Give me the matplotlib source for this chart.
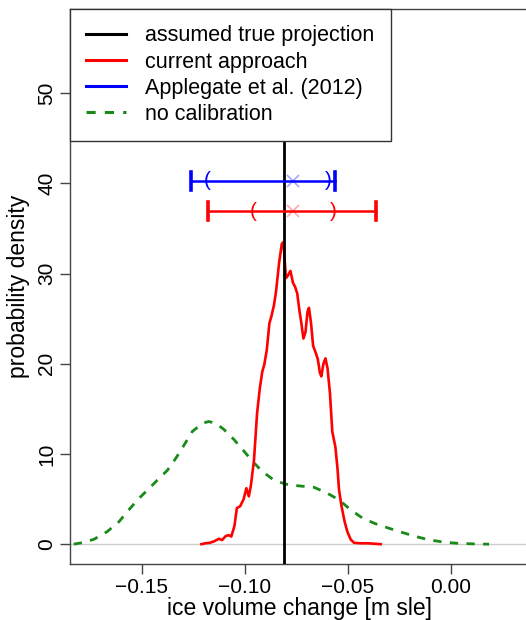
import matplotlib
matplotlib.use("Agg")
import matplotlib.pyplot as plt
import numpy as np

plt.rcParams['font.family'] = ['Liberation Sans', 'DejaVu Sans']

# values
true_proj = -0.081

red_x = [-0.1210, -0.1190, -0.1170, -0.1150, -0.1125, -0.1110, -0.1092, -0.1078,
         -0.1065, -0.1050, -0.1038, -0.1022, -0.1005, -0.0992, -0.0980, -0.0970,
         -0.0955, -0.0940, -0.0927, -0.0915, -0.0905, -0.0893, -0.0880, -0.0870,
         -0.0858, -0.0848, -0.0833, -0.0820, -0.0812, -0.0800, -0.0790, -0.0778,
         -0.0766, -0.0755, -0.0745, -0.0735, -0.0725, -0.0715, -0.0705, -0.0695,
         -0.0688, -0.0678, -0.0668, -0.0655, -0.0645, -0.0635, -0.0628, -0.0618,
         -0.0608, -0.0598, -0.0586, -0.0575, -0.0560, -0.0550, -0.0542, -0.0530,
         -0.0515, -0.0502, -0.0485, -0.0469, -0.0440, -0.0404, -0.0370, -0.0340]
red_y = [0.0, 0.1, 0.15, 0.3, 0.6, 0.45, 0.9, 1.0,
         0.85, 2.0, 4.0, 4.2, 5.0, 6.2, 5.3, 6.5,
         9.3, 14.5, 17.2, 19.1, 19.9, 21.5, 24.5, 25.3,
         26.5, 28.0, 31.2, 33.3, 33.5, 29.5, 29.8, 30.3,
         29.0, 28.5, 27.8, 26.0, 24.5, 22.8, 23.5, 25.8,
         26.2, 24.5, 22.0, 21.2, 20.5, 19.0, 18.6, 20.0,
         20.6, 19.5, 16.7, 12.5, 10.8, 8.5, 6.0, 4.2,
         2.5, 1.4, 0.5, 0.15, 0.1, 0.1, 0.05, 0.0]

green_x = [-0.1830, -0.1780, -0.1731, -0.1667, -0.1610, -0.1570, -0.1521, -0.1472,
           -0.1424, -0.1375, -0.1335, -0.1294, -0.1254, -0.1205, -0.1175, -0.1140,
           -0.1100, -0.1052, -0.1003, -0.0963, -0.0914, -0.0858, -0.0801, -0.0736,
           -0.0663, -0.0599, -0.0542, -0.0485, -0.0429, -0.0364, -0.0300, -0.0234,
           -0.0170, -0.0105, -0.0032, 0.0032, 0.0113, 0.0186]
green_y = [0.0, 0.2, 0.55, 1.4, 2.5, 3.6, 4.9, 6.0,
           7.1, 8.2, 9.5, 11.0, 12.5, 13.4, 13.6, 13.4,
           12.7, 11.6, 10.3, 9.2, 8.05, 7.1, 6.65, 6.46,
           6.3, 5.65, 4.9, 3.8, 2.9, 2.25, 1.77, 1.29,
           0.85, 0.48, 0.22, 0.1, 0.03, 0.0]

# interval summaries: (outer low, inner low, best, inner high, outer high, level)
blue_iv = [-0.1262, -0.1180, -0.0768, -0.0592, -0.0562, 40.3]
red_iv = [-0.1178, -0.0960, -0.0768, -0.0571, -0.0361, 36.9]

labels = ['assumed true projection', 'current approach',
          'Applegate et al. (2012)', 'no calibration']

fig = plt.figure(figsize=(5.26, 6.2), dpi=100)
# right edge of the box lies just outside the picture, as in the reference
ax = fig.add_axes([0.1331, 0.0903, 0.8726, 0.8947])

ax.axhline(0, color='#cccccc', lw=1, zorder=1)
ax.plot(green_x, green_y, color='#1a8a1a', lw=2, ls=(0, (3, 3)), zorder=2)
ax.plot(red_x, red_y, color='red', lw=1.9, zorder=3)
ax.axvline(true_proj, color='black', lw=2, zorder=4)

for iv, col in [(blue_iv, 'blue'), (red_iv, 'red')]:
    lo, ilo, mid, ihi, hi, yv = iv
    ax.plot([lo, hi], [yv, yv], color=col, lw=1.8, zorder=5)
    ax.plot([lo, lo], [yv - 1.0, yv + 1.0], color=col, lw=2.6, zorder=5)
    ax.plot([hi, hi], [yv - 1.0, yv + 1.0], color=col, lw=2.6, zorder=5)
    ax.text(ilo, yv, '(', color=col, fontsize=15, ha='center', va='center', zorder=5)
    ax.text(ihi, yv, ')', color=col, fontsize=15, ha='center', va='center', zorder=5)
    ax.plot([mid], [yv], marker='x', ms=9, mew=1.2, color=col, alpha=0.35, zorder=6)

handles = [plt.Line2D([], [], color='black', lw=2.2),
           plt.Line2D([], [], color='red', lw=2.2),
           plt.Line2D([], [], color='blue', lw=2.2),
           plt.Line2D([], [], color='#1a8a1a', lw=2.2, ls=(0, (3, 3)))]
leg = ax.legend(handles, labels, loc='upper left', bbox_to_anchor=(0, 1),
                borderaxespad=0, fontsize=15.5, handlelength=1.85, handletextpad=0.9,
                labelspacing=0.24, borderpad=0.75, fancybox=False, framealpha=1)
leg.get_frame().set_edgecolor('#333333')
leg.get_frame().set_linewidth(1.0)
leg.set_zorder(10)

ax.set_xlim(-0.1848, 0.038)
ax.set_ylim(-2.2, 59.3)
ax.set_xticks([-0.15, -0.10, -0.05, 0.00])
ax.set_xticklabels(['\u22120.15', '\u22120.10', '\u22120.05', '0.00'])
ax.set_yticks([0, 10, 20, 30, 40, 50])
ax.set_yticklabels(['0', '10', '20', '30', '40', '50'], rotation=90, va='center')
ax.tick_params(labelsize=15, length=7, width=1, color='#444444', direction='out', pad=3)
ax.set_xlabel('ice volume change [m sle]', fontsize=16.5, labelpad=0)
ax.set_ylabel('probability density', fontsize=16.5, labelpad=5)
for s in ax.spines.values():
    s.set_color('#444444')
    s.set_linewidth(1)

fig.savefig('out.png', dpi=100)
